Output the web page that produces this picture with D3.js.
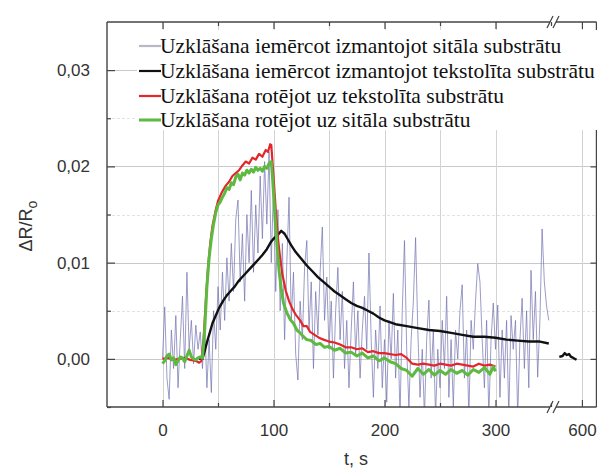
<!DOCTYPE html>
<html>
<head>
<meta charset="utf-8">
<script src="https://cdn.jsdelivr.net/npm/d3@7"></script>
<style>
  html, body { margin: 0; padding: 0; background: #fff; }
  svg { display: block; }
</style>
</head>
<body>
<svg id="chart" width="597" height="469"></svg>
<script>
// ---- data -------------------------------------------------------------
const seriesNames = [
  "Uzklāšana iemērcot izmantojot sitāla substrātu",
  "Uzklāšana iemērcot izmantojot tekstolīta substrātu",
  "Uzklāšana rotējot uz tekstolīta substrātu",
  "Uzklāšana rotējot uz sitāla substrātu"
];

// dip-coated on glass-ceramic: sampled every 2 s from t = 0
const dipSitalDt = 2;
const dipSitalValues = [
  0.0000, 0.0054, -0.0020, -0.0042, 0.0030, -0.0010, 0.0045, -0.0030, 0.0020, 0.0065,
  -0.0010, 0.0090, 0.0010, 0.0040, -0.0005, 0.0035, 0.0010, 0.0028,
  -0.0010, 0.0040, -0.0030, 0.0020, -0.0035, 0.0050, 0.0010, 0.0075, 0.0030, 0.0090,
  0.0040, 0.0105, 0.0060,
  0.0120, 0.0070, 0.0145, 0.0165, 0.0080, 0.0130, 0.0060, 0.0150, 0.0100, 0.0175,
  0.0090, 0.0160, 0.0110, 0.0190, 0.0125, 0.0205, 0.0140, 0.0215, 0.0100, 0.0180,
  0.0070, 0.0155, 0.0050, 0.0120, 0.0020, 0.0100, 0.0168, 0.0040, 0.0090, 0.0005,
  -0.0022, 0.0060, 0.0020, 0.0095, 0.0123, 0.0030, 0.0080, -0.0010, 0.0070, 0.0025,
  0.0090, 0.0137, 0.0040, 0.0085, 0.0010, 0.0060, -0.0020, 0.0050, 0.0095, 0.0020,
  0.0070, -0.0010, 0.0040, -0.0030, 0.0030, 0.0080, 0.0005, 0.0050, -0.0020, 0.0030,
  0.0065, 0.0010, 0.0110, 0.0020, -0.0040, 0.0030, -0.0010, 0.0055, -0.0030, 0.0020,
  -0.0045, 0.0040, 0.0000, 0.0068, -0.0020, 0.0030, -0.0060, 0.0050, 0.0123, 0.0010,
  -0.0050, 0.0020, 0.0060, 0.0126, 0.0030, -0.0040, 0.0010, -0.0060, 0.0020, 0.0061,
  -0.0020, 0.0030, -0.0060, 0.0010, -0.0030, 0.0040, -0.0010, 0.0065, -0.0040, 0.0020,
  -0.0050, 0.0030, 0.0000, 0.0050, 0.0077, -0.0020, 0.0030, -0.0060, 0.0040, 0.0010,
  0.0060, 0.0099, 0.0080, 0.0020, -0.0030, 0.0040, -0.0060, 0.0020, 0.0058, 0.0010,
  0.0056, -0.0040, 0.0030, -0.0020, 0.0040, -0.0060, 0.0045, 0.0010, 0.0040, -0.0060,
  0.0020, 0.0063, -0.0010, 0.0050, -0.0030, 0.0092, 0.0020, 0.0070, -0.0019, 0.0040,
  0.0135, 0.0080, 0.0055, 0.0040
];

// dip-coated on textolite: [t, ΔR/Ro]
const dipTextolitPoints = [
  [33, 0.0000], [36, 0.0000], [38, 0.0008], [40, 0.0017], [43, 0.0029], [45, 0.0037],
  [48, 0.0045], [51, 0.0053], [55, 0.0061], [58, 0.0066], [61, 0.0070], [65, 0.0075],
  [68, 0.0080], [71, 0.0084], [75, 0.0089], [79, 0.0094], [83, 0.0099], [87, 0.0104],
  [90, 0.0108], [94, 0.0114], [98, 0.0122], [101, 0.0126], [104, 0.0129], [107, 0.0133],
  [110, 0.0130], [113, 0.0124], [116, 0.0118], [120, 0.0111], [125, 0.0104], [130, 0.0097],
  [135, 0.0091], [140, 0.0085], [145, 0.0080], [150, 0.0075], [155, 0.0070], [160, 0.0066],
  [165, 0.0062], [170, 0.0058], [175, 0.0055], [180, 0.0053], [185, 0.0050], [190, 0.0047],
  [195, 0.0043], [200, 0.0040], [210, 0.0036], [220, 0.0034], [230, 0.0032], [240, 0.0030],
  [250, 0.0029], [260, 0.0027], [270, 0.0025], [280, 0.0023], [290, 0.0023], [300, 0.0022],
  [310, 0.0020], [320, 0.0019], [330, 0.0018], [340, 0.0018], [348, 0.0016]
];
const dipTextolitTailPoints = [
  [579, 0.0002], [582, 0.0003], [584, 0.0006], [586, 0.0004], [588, 0.0005],
  [590, 0.0002], [592, 0.0001], [595, -0.0001]
];

// spin-coated on textolite
const spinTextolitPoints = [
  [0, 0.0000], [5, 0.0001], [10, -0.0001], [15, 0.0000], [20, 0.0001], [25, -0.0001],
  [30, -0.0002], [33, -0.0004], [35, -0.0002], [37, 0.0020], [39, 0.0060], [41, 0.0095],
  [43, 0.0120], [45, 0.0138], [48, 0.0155], [50, 0.0164], [53, 0.0172], [57, 0.0180],
  [60, 0.0184], [63, 0.0190], [66, 0.0193], [69, 0.0196], [72, 0.0201], [75, 0.0205],
  [78, 0.0203], [81, 0.0209], [84, 0.0207], [87, 0.0213], [90, 0.0210], [93, 0.0217],
  [95, 0.0215], [97, 0.0223], [98, 0.0222], [100, 0.0190], [102, 0.0155], [104, 0.0125],
  [106, 0.0105], [108, 0.0088], [111, 0.0071], [114, 0.0060], [117, 0.0052], [120, 0.0046],
  [124, 0.0040], [127, 0.0034], [130, 0.0034], [133, 0.0028], [137, 0.0025], [141, 0.0022],
  [145, 0.0020], [150, 0.0018], [155, 0.0017], [160, 0.0015], [165, 0.0012], [170, 0.0012],
  [175, 0.0010], [180, 0.0011], [185, 0.0007], [190, 0.0008], [195, 0.0006], [200, 0.0006],
  [205, 0.0005], [210, 0.0004], [215, 0.0005], [220, 0.0001], [225, -0.0005], [230, -0.0006],
  [235, -0.0005], [240, -0.0006], [245, -0.0007], [250, -0.0005], [255, -0.0006], [260, -0.0007],
  [265, -0.0005], [270, -0.0006], [275, -0.0007], [280, -0.0008], [285, -0.0005], [290, -0.0007],
  [295, -0.0006], [300, -0.0008]
];

// spin-coated on glass-ceramic
const spinSitalPoints = [
  [0, -0.0005], [2, -0.0002], [4, 0.0003], [6, 0.0005], [8, -0.0001], [10, 0.0001],
  [12, -0.0006], [14, -0.0002], [16, 0.0002], [18, 0.0001], [20, -0.0003], [22, 0.0003],
  [24, 0.0009], [26, 0.0002], [28, 0.0000], [30, -0.0001], [32, 0.0001], [34, 0.0002],
  [36, 0.0001], [38, 0.0030], [40, 0.0075], [42, 0.0105], [44, 0.0125], [46, 0.0140],
  [48, 0.0152], [50, 0.0160], [52, 0.0163], [54, 0.0168], [56, 0.0172], [58, 0.0178],
  [60, 0.0176], [62, 0.0183], [64, 0.0181], [66, 0.0189], [68, 0.0192], [70, 0.0186],
  [72, 0.0193], [74, 0.0191], [76, 0.0196], [78, 0.0193], [80, 0.0197], [82, 0.0194],
  [84, 0.0199], [86, 0.0196], [88, 0.0198], [90, 0.0195], [92, 0.0200], [94, 0.0198],
  [96, 0.0203], [98, 0.0205], [99, 0.0190], [101, 0.0155], [103, 0.0120], [105, 0.0092],
  [107, 0.0072], [109, 0.0058], [112, 0.0048], [115, 0.0041], [118, 0.0037], [121, 0.0030],
  [124, 0.0027], [127, 0.0023], [130, 0.0020], [134, 0.0019], [138, 0.0015], [142, 0.0016],
  [146, 0.0012], [150, 0.0013], [155, 0.0009], [160, 0.0011], [165, 0.0006], [170, 0.0007],
  [175, 0.0003], [180, 0.0006], [185, 0.0001], [190, 0.0003], [195, -0.0002], [200, 0.0001],
  [205, -0.0003], [210, -0.0005], [215, -0.0010], [220, -0.0012], [225, -0.0018], [230, -0.0010],
  [235, -0.0016], [240, -0.0011], [245, -0.0017], [250, -0.0012], [255, -0.0016], [260, -0.0011],
  [265, -0.0015], [270, -0.0012], [275, -0.0017], [280, -0.0011], [285, -0.0014], [290, -0.0009],
  [295, -0.0016], [298, -0.0008], [300, -0.0013]
];

const xMajorTicks = [0, 100, 200, 300];
const xMajorLabels = ["0", "100", "200", "300"];
const xMinorTicks = [50, 150, 250, 350];
const xTailTicks = [600];
const xTailLabels = ["600"];
const yMajorTicks = [0, 0.01, 0.02, 0.03];
const yMajorLabels = ["0,00", "0,01", "0,02", "0,03"];
const yMinorTicks = [-0.005, 0.005, 0.015, 0.025];

const seriesColors = ["#7272b0", "#111111", "#e3262b", "#5db93f"];
const legendSwatchColors = ["#b9b9c6", "#111111", "#e3262b", "#5db93f"];

// ---- layout -----------------------------------------------------------
const svg = d3.select("#chart");
const plotLeft = 107, plotTop = 22, plotBottom = 407, plotRight = 596.5;
const breakX = 553;

const x = d3.scaleLinear().domain([-50, 350]).range([plotLeft, breakX - 2]);
const xTail = d3.scaleLinear().domain([575, 614]).range([breakX + 2, plotRight + 0.5]);
const y = d3.scaleLinear().domain([-0.005, 0.035]).range([plotBottom, plotTop]);

svg.append("defs").append("clipPath").attr("id", "plotClip")
  .append("rect").attr("x", plotLeft).attr("y", plotTop)
  .attr("width", plotRight - plotLeft).attr("height", plotBottom - plotTop);

// ---- grid -------------------------------------------------------------
const grid = svg.append("g");
grid.selectAll("line.hmaj").data(yMajorTicks).join("line")
  .attr("x1", plotLeft).attr("x2", plotRight)
  .attr("y1", d => Math.round(y(d)) + 0.5).attr("y2", d => Math.round(y(d)) + 0.5)
  .attr("stroke", "#c9c9c9").attr("stroke-width", 1);
grid.selectAll("line.hmin").data(yMinorTicks.filter(d => d > -0.005)).join("line")
  .attr("x1", plotLeft).attr("x2", plotRight)
  .attr("y1", d => Math.round(y(d)) + 0.5).attr("y2", d => Math.round(y(d)) + 0.5)
  .attr("stroke", "#e2e2e2").attr("stroke-width", 1).attr("stroke-dasharray", "3,2");
grid.selectAll("line.vmaj").data(xMajorTicks.concat(xMinorTicks.filter(d => d < 350))).join("line")
  .attr("x1", d => Math.round(x(d)) + 0.5).attr("x2", d => Math.round(x(d)) + 0.5)
  .attr("y1", plotTop).attr("y2", plotBottom)
  .attr("stroke", "#d3d3d3").attr("stroke-width", 1);
grid.selectAll("line.vtail").data(xTailTicks).join("line")
  .attr("x1", d => Math.round(xTail(d)) + 0.5).attr("x2", d => Math.round(xTail(d)) + 0.5)
  .attr("y1", plotTop).attr("y2", plotBottom)
  .attr("stroke", "#d3d3d3").attr("stroke-width", 1);

// ---- series -----------------------------------------------------------
const plot = svg.append("g").attr("clip-path", "url(#plotClip)");
const lineMain = d3.line().x(d => x(d[0])).y(d => y(d[1]));
const lineTail = d3.line().x(d => xTail(d[0])).y(d => y(d[1]));

const dipSitalPoints = dipSitalValues.map((v, i) => [i * dipSitalDt, v]);

plot.append("path").datum(dipSitalPoints).attr("d", lineMain)
  .attr("fill", "none").attr("stroke", seriesColors[0]).attr("stroke-opacity", 0.7)
  .attr("stroke-width", 1).attr("stroke-linejoin", "round");
plot.append("path").datum(dipTextolitPoints).attr("d", lineMain)
  .attr("fill", "none").attr("stroke", seriesColors[1]).attr("stroke-width", 2.4)
  .attr("stroke-linejoin", "round");
plot.append("path").datum(dipTextolitTailPoints).attr("d", lineTail)
  .attr("fill", "none").attr("stroke", seriesColors[1]).attr("stroke-width", 2.4)
  .attr("stroke-linejoin", "round");
plot.append("path").datum(spinTextolitPoints).attr("d", lineMain)
  .attr("fill", "none").attr("stroke", seriesColors[2]).attr("stroke-width", 2.2)
  .attr("stroke-linejoin", "round");
plot.append("path").datum(spinSitalPoints).attr("d", lineMain)
  .attr("fill", "none").attr("stroke", seriesColors[3]).attr("stroke-width", 3)
  .attr("stroke-linejoin", "round");

// ---- axes -------------------------------------------------------------
const axisColor = "#444";
const labelFont = "'Liberation Sans', Arial, sans-serif";

function styleAxis(g) {
  g.select(".domain").remove();
  g.selectAll(".tick line").attr("stroke", axisColor).attr("stroke-width", 1.2);
  g.selectAll(".tick text").attr("fill", "#333").attr("font-family", labelFont).attr("font-size", 17);
}

// bottom, labelled
svg.append("g").attr("transform", `translate(0,${plotBottom})`)
  .call(d3.axisBottom(x).tickValues(xMajorTicks).tickSize(-7).tickPadding(17)
    .tickFormat((d, i) => xMajorLabels[i]))
  .call(styleAxis);
svg.append("g").attr("transform", `translate(0,${plotBottom})`)
  .call(d3.axisBottom(x).tickValues(xMinorTicks).tickSize(-4).tickFormat(""))
  .call(styleAxis);
svg.append("g").attr("transform", `translate(0,${plotBottom})`)
  .call(d3.axisBottom(xTail).tickValues(xTailTicks).tickSize(-7).tickPadding(17)
    .tickFormat((d, i) => xTailLabels[i]))
  .call(styleAxis);
// top, ticks only
svg.append("g").attr("transform", `translate(0,${plotTop})`)
  .call(d3.axisTop(x).tickValues(xMajorTicks).tickSize(-7).tickFormat(""))
  .call(styleAxis);
svg.append("g").attr("transform", `translate(0,${plotTop})`)
  .call(d3.axisTop(x).tickValues(xMinorTicks).tickSize(-4).tickFormat(""))
  .call(styleAxis);
svg.append("g").attr("transform", `translate(0,${plotTop})`)
  .call(d3.axisTop(xTail).tickValues(xTailTicks).tickSize(-7).tickFormat(""))
  .call(styleAxis);
// left, labelled
svg.append("g").attr("transform", `translate(${plotLeft},0)`)
  .call(d3.axisLeft(y).tickValues(yMajorTicks).tickSize(-8).tickPadding(17)
    .tickFormat((d, i) => yMajorLabels[i]))
  .call(styleAxis);
svg.append("g").attr("transform", `translate(${plotLeft},0)`)
  .call(d3.axisLeft(y).tickValues(yMinorTicks).tickSize(-4).tickFormat(""))
  .call(styleAxis);
// right, ticks only
svg.append("g").attr("transform", `translate(${plotRight},0)`)
  .call(d3.axisRight(y).tickValues(yMajorTicks).tickSize(-6).tickFormat(""))
  .call(styleAxis);

// frame with a gap at the axis break
const frame = svg.append("g").attr("stroke", axisColor).attr("stroke-width", 1.4).attr("fill", "none");
frame.append("line").attr("x1", plotLeft).attr("x2", plotLeft).attr("y1", plotTop).attr("y2", plotBottom);
frame.append("line").attr("x1", plotRight).attr("x2", plotRight).attr("y1", plotTop).attr("y2", plotBottom);
[plotTop, plotBottom].forEach(yy => {
  frame.append("line").attr("x1", plotLeft).attr("x2", breakX - 3).attr("y1", yy).attr("y2", yy);
  frame.append("line").attr("x1", breakX + 3).attr("x2", plotRight).attr("y1", yy).attr("y2", yy);
  [-3, 3].forEach(off => {
    frame.append("line")
      .attr("x1", breakX + off - 3).attr("y1", yy + 6)
      .attr("x2", breakX + off + 3).attr("y2", yy - 6)
      .attr("stroke-width", 1.2);
  });
});

// axis titles
svg.append("text").attr("x", 356).attr("y", 465).attr("text-anchor", "middle")
  .attr("font-family", labelFont).attr("font-size", 18).attr("fill", "#333")
  .text("t, s");
const yTitle = svg.append("text")
  .attr("transform", "translate(32,226) rotate(-90)").attr("text-anchor", "middle")
  .attr("font-family", labelFont).attr("font-size", 18).attr("fill", "#333");
yTitle.append("tspan").text("ΔR/R");
yTitle.append("tspan").attr("dy", 5).attr("font-size", 14).text("o");

// ---- legend -----------------------------------------------------------
const legend = svg.append("g");
legend.append("rect").attr("x", 137).attr("y", 30).attr("width", 460).attr("height", 100)
  .attr("fill", "#fff");
const rowY = [46, 71, 96, 120];
const rows = legend.selectAll("g.row").data(seriesNames).join("g")
  .attr("transform", (d, i) => `translate(0,${rowY[i]})`);
rows.append("line").attr("x1", 139).attr("x2", 161).attr("y1", 0).attr("y2", 0)
  .attr("stroke", (d, i) => legendSwatchColors[i])
  .attr("stroke-width", (d, i) => i === 3 ? 3 : 2.2);
rows.append("text").attr("x", 160).attr("y", 0).attr("dy", "0.34em")
  .attr("font-family", "'Liberation Serif', 'Times New Roman', serif")
  .attr("font-size", 21.5).attr("fill", "#111")
  .text(d => d);
</script>
</body>
</html>
